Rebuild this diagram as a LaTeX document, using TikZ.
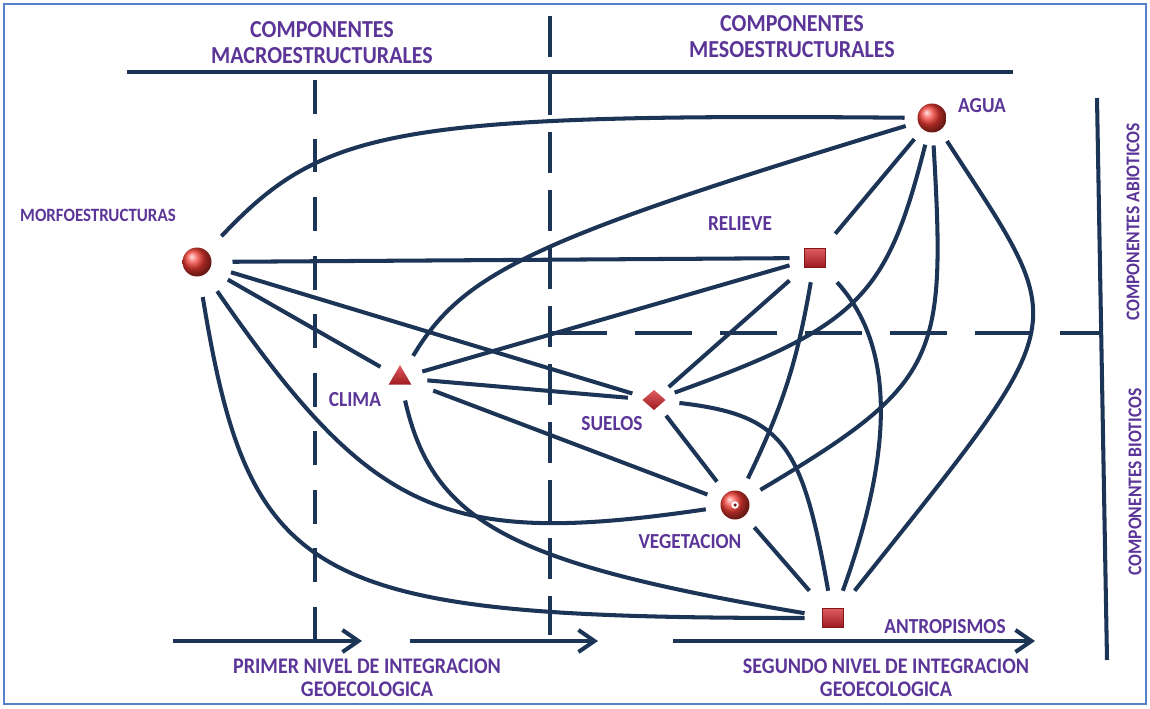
\documentclass[tikz,border=0pt]{standalone}
\usepackage{fontspec}
\setmainfont{Carlito}
\newfontfamily\lblfont{Carlito}[FakeStretch=0.9]
\usepackage{xcolor}
\definecolor{pNavy}{HTML}{1C3557}
\definecolor{pPurple}{HTML}{5B3598}
\definecolor{pRed}{HTML}{D3242A}
\definecolor{pBall}{HTML}{F03A32}
\definecolor{pFrame}{HTML}{5680C8}
\usetikzlibrary{arrows.meta, shapes.geometric}

\begin{document}
\begin{tikzpicture}[
  every node/.style={font=\lblfont\bfseries\fontsize{12.2}{14.5}\selectfont},
  lbl/.style={text=pPurple, align=center, inner sep=1pt},
  head/.style={lbl, font=\lblfont\bfseries\fontsize{13.9}{14.8}\selectfont},
  link/.style={draw=pNavy, line width=2.3pt},
  rule/.style={draw=pNavy, line width=2.3pt},
  flow/.style={draw=pNavy, line width=2.3pt,
               -{Straight Barb[length=0.32cm, width=0.44cm]}},
  hubround/.style={circle, minimum size=0.58cm, inner sep=0pt, ball color=pBall},
  hubtri/.style={regular polygon, regular polygon sides=3, minimum size=0.52cm,
                 inner sep=0pt, top color=pRed!75!white, bottom color=pRed!75!black},
  hubgem/.style={diamond, minimum width=0.66cm, minimum height=0.60cm,
                 inner sep=0pt, top color=pRed!75!white, bottom color=pRed!75!black},
  hubsquare/.style={rectangle, minimum width=0.42cm, minimum height=0.37cm,
                    inner sep=0pt, top color=pRed!75!white, bottom color=pRed!75!black,
                    draw=pRed!60!black, line width=0.3pt}
]
\useasboundingbox (0,0) rectangle (23,14.16);
\draw[pFrame, line width=1.2pt] (0.08,0.08) rectangle (22.92,14.08);

% frame of the diagram
\draw[rule] (2.54,12.72) -- (20.26,12.72);
\draw[rule, dash pattern=on 0.82cm off 0.34cm] (11.00,13.84) -- (11.00,1.46);
\draw[rule, dash pattern=on 0.68cm off 0.49cm] (6.30,12.56) -- (6.30,1.34);
\draw[rule, dash pattern=on 1.14cm off 0.56cm] (11.00,7.50) -- (22.02,7.50);
\draw[rule] (21.94,12.20) -- (22.14,0.96);

\node[head] (hmacro) at (6.44,13.30) {COMPONENTES\\MACROESTRUCTURALES};
\node[head] (hmeso) at (15.84,13.42) {COMPONENTES\\MESOESTRUCTURALES};
\node[lbl, rotate=90, font=\lblfont\bfseries\fontsize{11.1}{12}\selectfont]
  (habio) at (22.66,9.72) {COMPONENTES ABIOTICOS};
\node[lbl, rotate=90, font=\lblfont\bfseries\fontsize{11.1}{12}\selectfont]
  (hbio) at (22.70,4.52) {COMPONENTES BIOTICOS};

% integration levels
\coordinate (f1s) at (3.46,1.34);
\coordinate (f1e) at (7.24,1.34);
\coordinate (f2s) at (8.20,1.34);
\coordinate (f2e) at (11.96,1.34);
\coordinate (f3s) at (13.46,1.34);
\coordinate (f3e) at (20.70,1.34);
\draw[flow] (f1s) -- (f1e);
\draw[flow] (f2s) -- (f2e);
\draw[flow] (f3s) -- (f3e);
\node[lbl, font=\lblfont\bfseries\fontsize{12.7}{12.8}\selectfont]
  (lprimer) at (7.34,0.60) {PRIMER NIVEL DE INTEGRACION\\GEOECOLOGICA};
\node[lbl, font=\lblfont\bfseries\fontsize{12.7}{12.8}\selectfont]
  (lsegundo) at (17.72,0.60) {SEGUNDO NIVEL DE INTEGRACION\\GEOECOLOGICA};

% components
\node[hubround, outer sep=0.42cm] (morfo) at (3.94,8.92) {};
\node[hubtri, outer sep=0.32cm] (clima) at (8.00,6.60) {};
\node[hubgem, outer sep=0.24cm] (suelos) at (13.08,6.16) {};
\node[hubround, outer sep=0.30cm] (veget) at (14.70,4.06) {};
\fill[white] (veget) circle (0.075);
\fill[pRed!55!black] (veget) circle (0.035);
\node[hubsquare, outer sep=0.30cm] (relieve) at (16.30,9.00) {};
\node[hubround, outer sep=0.26cm] (agua) at (18.64,11.80) {};
\node[hubsquare, outer sep=0.36cm] (antro) at (16.66,1.80) {};

\node[lbl, font=\lblfont\bfseries\fontsize{10.7}{12}\selectfont]
  (tmorfo) at (1.96,9.86) {MORFOESTRUCTURAS};
\node[lbl] (tclima) at (7.10,6.16) {CLIMA};
\node[lbl] (tsuelos) at (12.24,5.68) {SUELOS};
\node[lbl] (tveget) at (13.80,3.32) {VEGETACION};
\node[lbl] (trelieve) at (14.80,9.68) {RELIEVE};
\node[lbl] (tagua) at (19.64,12.04) {AGUA};
\node[lbl] (tantro) at (18.90,1.62) {ANTROPISMOS};

% straight links
\draw[link] (morfo) -- (relieve);
\draw[link] (morfo) -- (suelos);
\draw[link] (morfo) -- (clima);
\draw[link] (clima) -- (relieve);
\draw[link] (clima) -- (suelos);
\draw[link] (clima) -- (veget);
\draw[link] (suelos) -- (relieve);
\draw[link] (suelos) -- (veget);
\draw[link] (veget) -- (antro);
\draw[link] (relieve) -- (agua);
\draw[link] (veget) to[bend right=8] (relieve);

% curved links
\draw[link] (morfo) .. controls (6.44,11.56) and (7.80,11.90) .. (agua);
\draw[link] (morfo) .. controls (7.44,3.86) and (8.86,3.20) .. (veget);
\draw[link] (morfo) .. controls (5.00,2.46) and (6.18,1.80) .. (antro);
\draw[link] (clima) .. controls (9.26,8.72) and (10.72,9.40) .. (agua);
\draw[link] (clima) .. controls (8.66,3.68) and (10.26,2.88) .. (antro);
\draw[link] (suelos) .. controls (17.20,7.64) and (17.74,8.24) .. (agua);
\draw[link] (suelos) .. controls (15.66,5.86) and (16.04,5.30) .. (antro);
\draw[link] (relieve) .. controls (17.90,7.24) and (17.88,5.18) .. (antro);
\draw[link] (veget) .. controls (18.80,6.50) and (18.92,6.96) .. (agua);
\draw[link] (agua) .. controls (21.44,7.48) and (21.54,7.94) .. (antro);
\end{tikzpicture}
\end{document}
